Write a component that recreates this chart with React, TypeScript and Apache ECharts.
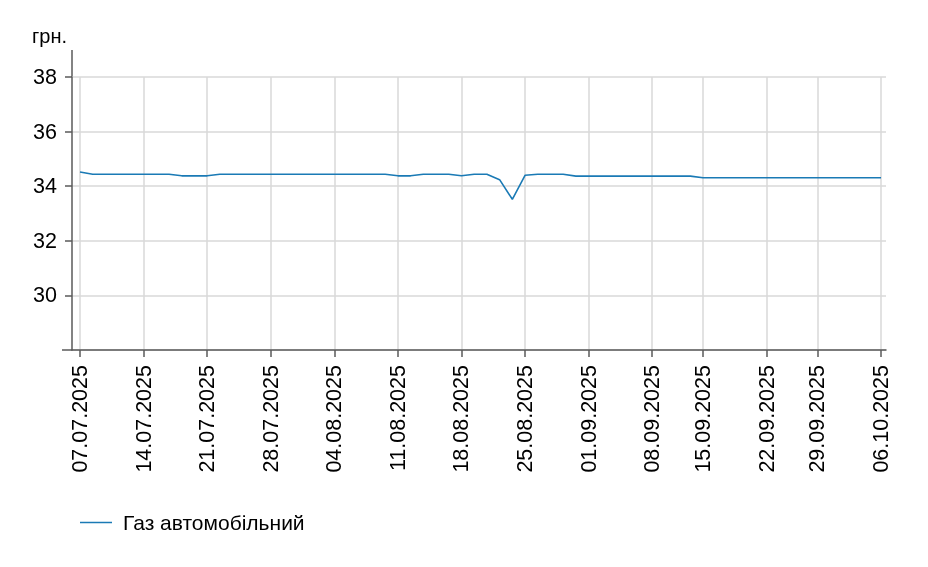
import React, { useEffect, useRef } from "react";
import * as echarts from "echarts";

const dates: string[] = [
  "07.07.2025", "08.07.2025", "09.07.2025", "10.07.2025", "11.07.2025",
  "14.07.2025", "15.07.2025", "16.07.2025", "17.07.2025", "18.07.2025",
  "21.07.2025", "22.07.2025", "23.07.2025", "24.07.2025", "25.07.2025",
  "28.07.2025", "29.07.2025", "30.07.2025", "31.07.2025", "01.08.2025",
  "04.08.2025", "05.08.2025", "06.08.2025", "07.08.2025", "08.08.2025",
  "11.08.2025", "12.08.2025", "13.08.2025", "14.08.2025", "15.08.2025",
  "18.08.2025", "19.08.2025", "20.08.2025", "21.08.2025", "22.08.2025",
  "25.08.2025", "26.08.2025", "27.08.2025", "28.08.2025", "29.08.2025",
  "01.09.2025", "02.09.2025", "03.09.2025", "04.09.2025", "05.09.2025",
  "08.09.2025", "09.09.2025", "10.09.2025", "11.09.2025",
  "15.09.2025", "16.09.2025", "17.09.2025", "18.09.2025", "19.09.2025",
  "22.09.2025", "23.09.2025", "24.09.2025", "25.09.2025",
  "29.09.2025", "30.09.2025", "01.10.2025", "02.10.2025", "03.10.2025",
  "06.10.2025",
];

const gasPrices: number[] = [
  34.52, 34.44, 34.44, 34.44, 34.44,
  34.44, 34.44, 34.44, 34.38, 34.38,
  34.38, 34.44, 34.44, 34.44, 34.44,
  34.44, 34.44, 34.44, 34.44, 34.44,
  34.44, 34.44, 34.44, 34.44, 34.44,
  34.38, 34.38, 34.44, 34.44, 34.44,
  34.38, 34.44, 34.44, 34.24, 33.52,
  34.40, 34.44, 34.44, 34.44, 34.37,
  34.37, 34.37, 34.37, 34.37, 34.37,
  34.37, 34.37, 34.37, 34.37,
  34.31, 34.31, 34.31, 34.31, 34.31,
  34.31, 34.31, 34.31, 34.31,
  34.31, 34.31, 34.31, 34.31, 34.31,
  34.31,
];

const tickDates: string[] = [
  "07.07.2025", "14.07.2025", "21.07.2025", "28.07.2025", "04.08.2025",
  "11.08.2025", "18.08.2025", "25.08.2025", "01.09.2025", "08.09.2025",
  "15.09.2025", "22.09.2025", "29.09.2025", "06.10.2025",
];

const seriesName = "Газ автомобільний";
const unitLabel = "грн.";

const FONT = "Liberation Sans, Arial, Helvetica, sans-serif";

export default function App() {
  const ref = useRef<HTMLDivElement>(null);

  useEffect(() => {
    if (!ref.current) return;
    const chart = echarts.init(ref.current, undefined, { renderer: "svg" });
    const tickIdx = tickDates.map((d) => dates.indexOf(d));
    const axisColor = "#5a5a5a";
    const gridColor = "#d9d9d9";
    const lineColor = "#1a7ab5";
    chart.setOption({
      animation: false,
      grid: { left: 72, right: 42, top: 77, bottom: 217, containLabel: false },
      xAxis: {
        type: "value",
        min: -0.63,
        max: 63.39,
        axisLine: { show: true, onZero: false, lineStyle: { color: axisColor, width: 1.5 } },
        axisTick: {
          show: true,
          length: 7,
          customValues: tickIdx,
          lineStyle: { color: axisColor, width: 1.5 },
        },
        axisLabel: {
          customValues: tickIdx,
          rotate: 90,
          margin: 15,
          color: "#000",
          fontSize: 21.5,
          fontFamily: FONT,
          formatter: (v: number) => dates[Math.round(v)] ?? "",
        },
        splitLine: { show: true, lineStyle: { color: gridColor, width: 1.5 } },
      },
      yAxis: {
        type: "value",
        min: 28,
        max: 38,
        interval: 2,
        axisLine: { show: true, onZero: false, lineStyle: { color: axisColor, width: 1.5 } },
        axisTick: { show: true, length: 7, lineStyle: { color: axisColor, width: 1.5 } },
        axisLabel: {
          showMinLabel: false,
          margin: 15,
          color: "#000",
          fontSize: 21.5,
          fontFamily: FONT,
        },
        splitLine: { show: true, lineStyle: { color: gridColor, width: 1.5 } },
      },
      legend: {
        show: true,
        left: 75,
        top: 507,
        icon: "rect",
        itemWidth: 32,
        itemHeight: 1.5,
        itemGap: 10,
        textStyle: { color: "#000", fontSize: 21, fontFamily: FONT, padding: [0, 0, 0, 6] },
        data: [{ name: seriesName, itemStyle: { color: lineColor } }],
      },
      graphic: [
        {
          type: "line",
          shape: { x1: 72, y1: 50, x2: 72, y2: 77 },
          style: { stroke: axisColor, lineWidth: 1.5 },
          silent: true,
        },
        {
          type: "line",
          shape: { x1: 62, y1: 350, x2: 72, y2: 350 },
          style: { stroke: axisColor, lineWidth: 1.5 },
          silent: true,
        },
        {
          type: "text",
          left: 32,
          top: 26,
          style: { text: unitLabel, fill: "#000", font: `20px ${FONT}` },
          silent: true,
        },
      ],
      series: [
        {
          name: seriesName,
          type: "line",
          data: gasPrices.map((v, i) => [i, v]),
          symbol: "none",
          showSymbol: false,
          lineStyle: { color: lineColor, width: 1.6 },
          itemStyle: { color: lineColor },
        },
      ],
    });
    return () => chart.dispose();
  }, []);

  return (
    <div
      ref={ref}
      style={{ position: "fixed", left: 0, top: 0, width: 928, height: 567 }}
    />
  );
}
